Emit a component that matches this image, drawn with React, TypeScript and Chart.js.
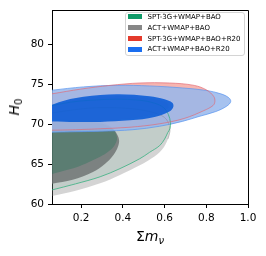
import React, { useEffect, useRef } from "react";
import { Chart, registerables } from "chart.js";

Chart.register(...registerables);

const LEGEND_LABELS = [
  "SPT-3G+WMAP+BAO",
  "ACT+WMAP+BAO",
  "SPT-3G+WMAP+BAO+R20",
  "ACT+WMAP+BAO+R20",
];
const LEGEND_COLORS = ["#0f9a68", "#878787", "#e43a2c", "#1a6ef0"];

const X_TICKS = [0.2, 0.4, 0.6, 0.8, 1.0];
const Y_TICKS = [60, 65, 70, 75, 80];

// contour boundaries: [sum m_nu, H0]
const SPT_2SIG: number[][] = [
  [0.06, 72.32], [0.149, 72.75], [0.244, 72.99], [0.363, 73.12], [0.481, 72.99],
  [0.552, 72.62], [0.595, 72.07], [0.618, 71.21], [0.628, 70.22], [0.626, 69.48],
  [0.615, 68.93], [0.6, 68.13], [0.576, 67.3], [0.528, 66.47], [0.481, 65.67],
  [0.386, 64.43], [0.291, 63.41], [0.173, 62.52], [0.06, 61.76],
];
const SPT_1SIG: number[][] = [
  [0.06, 70.47], [0.197, 70.59], [0.291, 70.34], [0.339, 69.73], [0.363, 68.99],
  [0.372, 68.13], [0.358, 67.27], [0.329, 66.53], [0.291, 65.91], [0.22, 65.05],
  [0.149, 64.37], [0.06, 63.76],
];
const ACT_2SIG: number[][] = [
  [0.06, 71.39], [0.173, 71.82], [0.291, 72.07], [0.434, 71.95], [0.528, 71.58],
  [0.585, 71.08], [0.609, 70.59], [0.623, 69.85], [0.626, 69.11], [0.616, 68.13],
  [0.6, 67.27], [0.576, 66.49], [0.538, 65.73], [0.481, 64.84], [0.386, 63.63],
  [0.291, 62.59], [0.173, 61.66], [0.06, 60.99],
];
const ACT_1SIG: number[][] = [
  [0.06, 70.22], [0.197, 70.34], [0.291, 70.1], [0.348, 69.48], [0.372, 68.74],
  [0.382, 67.88], [0.372, 66.9], [0.348, 65.91], [0.315, 65.05], [0.254, 63.98],
  [0.159, 63.04], [0.06, 62.55],
];
const SPT_R20_2SIG: number[][] = [
  [0.06, 73.79], [0.197, 74.38], [0.339, 74.85], [0.481, 75.15], [0.623, 75.15],
  [0.742, 74.85], [0.803, 74.25], [0.836, 73.45], [0.841, 72.81], [0.832, 72.32],
  [0.789, 71.7], [0.694, 70.71], [0.576, 70.04], [0.434, 69.61], [0.291, 69.42],
  [0.173, 69.3], [0.06, 69.24],
];
const SPT_R20_1SIG: number[][] = [
  [0.06, 72.3], [0.2, 73.2], [0.37, 73.5], [0.5, 73.3], [0.6, 72.8], [0.62, 72.2],
  [0.58, 71.5], [0.43, 70.7], [0.29, 70.5], [0.17, 70.5], [0.06, 70.6],
];
const ACT_R20_2SIG: number[][] = [
  [0.06, 74.25], [0.211, 74.66], [0.372, 74.86], [0.528, 74.78], [0.685, 74.53],
  [0.799, 74.22], [0.87, 73.79], [0.908, 73.3], [0.917, 72.81], [0.898, 72.25],
  [0.846, 71.58], [0.765, 70.96], [0.685, 70.34], [0.576, 69.73], [0.448, 69.3],
  [0.291, 69.11], [0.173, 69.05], [0.06, 68.99],
];
const ACT_R20_1SIG: number[][] = [
  [0.06, 72.44], [0.126, 72.99], [0.211, 73.42], [0.372, 73.73], [0.528, 73.49],
  [0.6, 73.12], [0.637, 72.68], [0.642, 72.19], [0.623, 71.58], [0.552, 70.9],
  [0.434, 70.47], [0.291, 70.28], [0.173, 70.28], [0.06, 70.34],
];

const toPts = (a: number[][]) => a.map(([x, y]) => ({ x, y }));

const CLEAR = "rgba(0,0,0,0)";

function fillSet(data: number[][], color: string, border = CLEAR, bw = 1) {
  return {
    data: toPts(data),
    showLine: true,
    fill: "shape",
    backgroundColor: color,
    borderColor: border,
    borderWidth: bw,
    pointRadius: 0,
    tension: 0.35,
  };
}
function lineSet(data: number[][], color: string, bw = 1) {
  return {
    data: toPts(data),
    showLine: true,
    fill: false,
    backgroundColor: CLEAR,
    borderColor: color,
    borderWidth: bw,
    pointRadius: 0,
    tension: 0.35,
  };
}

const framePlugin = {
  id: "frame",
  afterDraw(chart: any) {
    const { ctx, chartArea } = chart;
    const l = Math.round(chartArea.left) + 0.5;
    const t = Math.round(chartArea.top) + 0.5;
    const r = Math.round(chartArea.right) + 0.5;
    const b = Math.round(chartArea.bottom) + 0.5;
    ctx.save();
    ctx.strokeStyle = "#000";
    ctx.lineWidth = 1;
    ctx.beginPath();
    ctx.moveTo(l, t);
    ctx.lineTo(r, t);
    ctx.lineTo(r, b);
    ctx.stroke();
    ctx.restore();
  },
};

export default function App() {
  const ref = useRef<HTMLCanvasElement | null>(null);

  useEffect(() => {
    if (!ref.current) return;
    // bottom -> top
    const layers: any[] = [
      fillSet(ACT_2SIG, "rgba(128,128,128,0.34)"),
      fillSet(SPT_2SIG, "rgba(40,150,110,0.1)"),
      fillSet(ACT_1SIG, "rgba(110,115,113,0.82)"),
      fillSet(SPT_1SIG, "rgba(30,115,85,0.35)"),
      fillSet(SPT_R20_2SIG, "rgba(240,120,112,0.55)"),
      fillSet(SPT_R20_1SIG, "rgba(230,60,50,0.8)"),
      fillSet(ACT_R20_2SIG, "rgba(150,183,236,0.85)", "rgba(90,150,240,0.9)", 0.8),
      lineSet(ACT_2SIG.slice(0, 10), "rgba(120,120,120,0.4)", 0.9),
      lineSet(SPT_2SIG, "rgba(50,175,125,0.85)", 0.9),
      lineSet(SPT_R20_2SIG, "rgba(225,105,115,0.75)", 0.9),
      fillSet(ACT_R20_1SIG, "rgba(10,92,215,0.88)"),
    ];
    const n = layers.length;
    layers.forEach((d, i) => (d.order = n - i));

    const chart = new Chart(ref.current, {
      type: "scatter",
      data: { datasets: layers },
      options: {
        animation: false,
        responsive: false,
        devicePixelRatio: 1,
        layout: { padding: { top: 7, right: 18, left: 0, bottom: 0 } },
        plugins: { legend: { display: false }, tooltip: { enabled: false } },
        scales: {
          x: {
            type: "linear",
            min: 0.06,
            max: 1.0,
            afterBuildTicks: (s: any) => {
              s.ticks = X_TICKS.map((v) => ({ value: v }));
            },
            afterFit: (s: any) => {
              s.height = 52;
            },
            ticks: {
              color: "#000",
              font: { family: "DejaVu Sans", size: 10.5 },
              padding: 4,
              maxRotation: 0,
              callback: (v: any) => Number(v).toFixed(1),
            },
            grid: {
              display: true,
              drawOnChartArea: false,
              drawTicks: true,
              tickLength: 4,
              color: "#000",
            },
            border: { display: true, color: "#000", width: 1 },
          },
          y: {
            type: "linear",
            min: 60,
            max: 84.25,
            afterBuildTicks: (s: any) => {
              s.ticks = Y_TICKS.map((v) => ({ value: v }));
            },
            afterFit: (s: any) => {
              s.width = 52;
            },
            ticks: {
              color: "#000",
              font: { family: "DejaVu Sans", size: 10.5 },
              padding: 4,
              callback: (v: any) => String(v),
            },
            grid: {
              display: true,
              drawOnChartArea: false,
              drawTicks: true,
              tickLength: 4,
              color: "#000",
            },
            border: { display: true, color: "#000", width: 1 },
          },
        },
      } as any,
      plugins: [framePlugin],
    });
    return () => chart.destroy();
  }, []);

  const font = "'DejaVu Sans', sans-serif";

  return (
    <div
      style={{
        position: "fixed",
        left: 0,
        top: 0,
        width: 266,
        height: 256,
        background: "#fff",
        overflow: "hidden",
      }}
    >
      <canvas
        ref={ref}
        width={266}
        height={256}
        style={{ position: "absolute", left: 0, top: 0, width: 266, height: 256 }}
      />
      {/* legend */}
      <div
        style={{
          position: "absolute",
          left: 125,
          top: 12,
          width: 120,
          height: 44,
          border: "1px solid #d4d4d4",
          borderRadius: 3,
          background: "rgba(255,255,255,0.85)",
          boxSizing: "border-box",
        }}
      />
      {LEGEND_LABELS.map((lab, i) => {
        const cy = 16.7 + i * 10.9;
        return (
          <div key={lab}>
            <div
              style={{
                position: "absolute",
                left: 128,
                top: cy - 2.5,
                width: 14,
                height: 5,
                background: LEGEND_COLORS[i],
              }}
            />
            <div
              style={{
                position: "absolute",
                left: 147.5,
                top: cy - 4,
                height: 8,
                lineHeight: "8px",
                fontFamily: font,
                fontSize: 7,
                color: "#000",
                whiteSpace: "nowrap",
              }}
            >
              {lab}
            </div>
          </div>
        );
      })}
      {/* x axis title */}
      <div
        style={{
          position: "absolute",
          left: 52,
          width: 196,
          top: 229.4,
          textAlign: "center",
          fontFamily: font,
          fontSize: 14,
          lineHeight: "14px",
          color: "#000",
          whiteSpace: "nowrap",
        }}
      >
        Σ<span style={{ fontStyle: "italic" }}>m</span>
        <span style={{ fontStyle: "italic", fontSize: 10, position: "relative", top: 3 }}>ν</span>
      </div>
      {/* y axis title */}
      <div
        style={{
          position: "absolute",
          left: 14.7,
          top: 107,
          transform: "translate(-50%, -50%) rotate(-90deg)",
          fontFamily: font,
          fontSize: 14,
          lineHeight: "14px",
          color: "#000",
          whiteSpace: "nowrap",
        }}
      >
        <span style={{ fontStyle: "italic" }}>H</span>
        <span style={{ fontSize: 10, position: "relative", top: 3 }}>0</span>
      </div>
    </div>
  );
}
